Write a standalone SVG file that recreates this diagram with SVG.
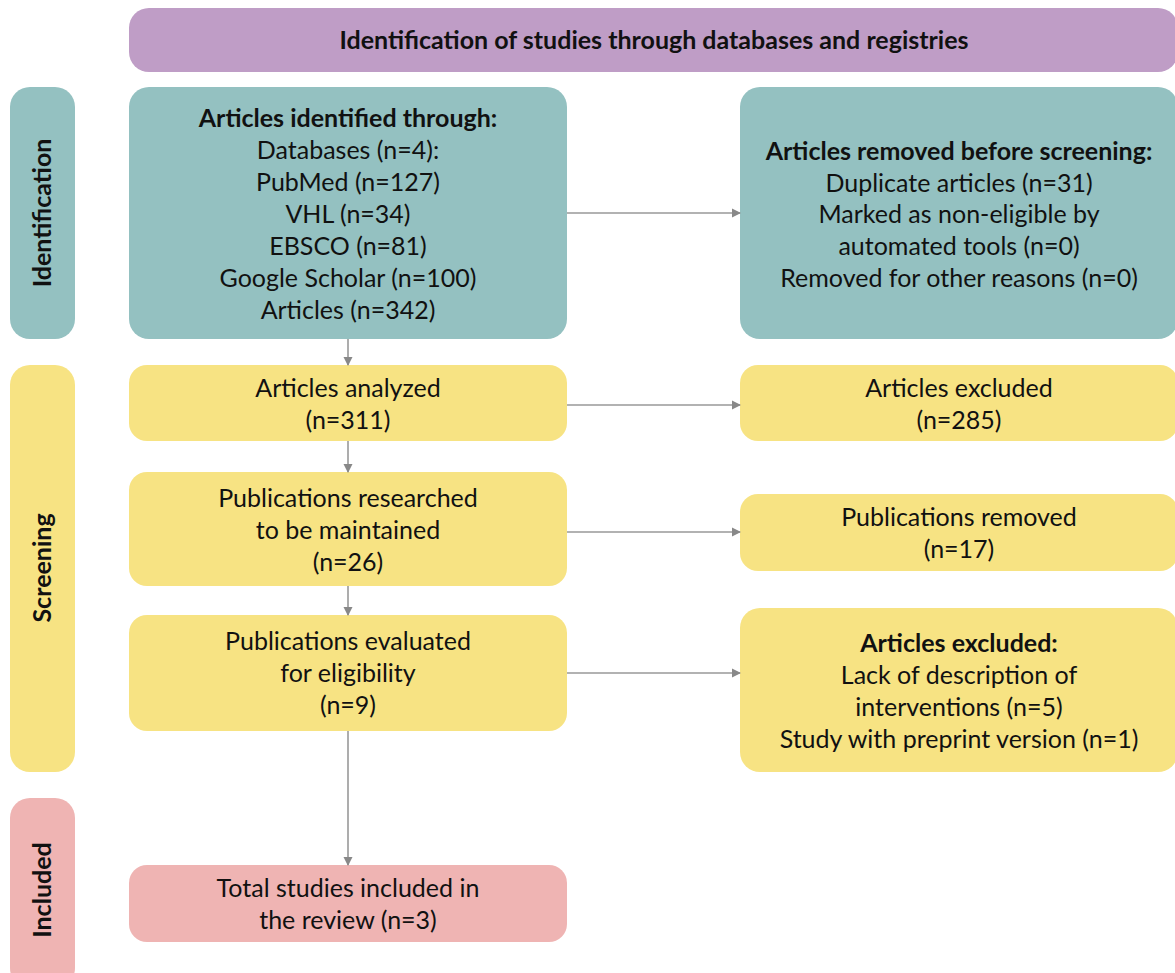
<svg xmlns="http://www.w3.org/2000/svg" width="1175" height="973" viewBox="0 0 1175 973">
<style>
text{font-family:Lato,"Noto Sans","Liberation Sans",sans-serif;font-size:25px;fill:#111;text-anchor:middle}
.b{font-weight:bold}
.teal{fill:#94c1c1}
.yel{fill:#f7e383}
.pink{fill:#efb4b3}
.pur{fill:#bf9dc6}
.c{stroke:#999;stroke-width:1.6;fill:none;marker-end:url(#ah)}
</style>
<defs>
<marker id="ah" markerWidth="10" markerHeight="10" refX="8" refY="5" orient="auto" markerUnits="userSpaceOnUse">
<path d="M0,0.5 L9,5 L0,9.5 Z" fill="#888"/>
</marker>
</defs>
<rect width="1175" height="973" fill="#fff"/>
<g id="header"><rect class="pur" x="129" y="8" width="1049" height="64" rx="20"/><text class="b" x="654" y="49">Identification of studies through databases and registries</text></g>
<g id="lbl-identification"><rect class="teal" x="10" y="87" width="65" height="252" rx="20"/><text class="b" transform="translate(51,213) rotate(-90)">Identification</text></g>
<g id="lbl-screening"><rect class="yel" x="10" y="365" width="65" height="407" rx="20"/><text class="b" transform="translate(51,568) rotate(-90)">Screening</text></g>
<g id="lbl-included"><rect class="pink" x="10" y="798" width="65" height="190" rx="20"/><text class="b" transform="translate(51,890) rotate(-90)">Included</text></g>
<g id="identified"><rect class="teal" x="129" y="87" width="438" height="252" rx="20"/>
<text x="348" y="127" class="b">Articles identified through:</text>
<text x="348" y="159">Databases (n=4):</text>
<text x="348" y="191">PubMed (n=127)</text>
<text x="348" y="223">VHL (n=34)</text>
<text x="348" y="255">EBSCO (n=81)</text>
<text x="348" y="287">Google Scholar (n=100)</text>
<text x="348" y="319">Articles (n=342)</text></g>
<g id="removed"><rect class="teal" x="740" y="87" width="438" height="252" rx="20"/>
<text x="959" y="160" class="b">Articles removed before screening:</text>
<text x="959" y="192">Duplicate articles (n=31)</text>
<text x="959" y="223">Marked as non-eligible by</text>
<text x="959" y="255">automated tools (n=0)</text>
<text x="959" y="287">Removed for other reasons (n=0)</text></g>
<g id="analyzed"><rect class="yel" x="129" y="365" width="438" height="76" rx="18"/>
<text x="348" y="397">Articles analyzed</text><text x="348" y="429">(n=311)</text></g>
<g id="excluded1"><rect class="yel" x="740" y="365" width="438" height="76" rx="18"/>
<text x="959" y="397">Articles excluded</text><text x="959" y="429">(n=285)</text></g>
<g id="researched"><rect class="yel" x="129" y="472" width="438" height="114" rx="18"/>
<text x="348" y="507">Publications researched</text><text x="348" y="539">to be maintained</text><text x="348" y="571">(n=26)</text></g>
<g id="pubremoved"><rect class="yel" x="740" y="494" width="438" height="77" rx="18"/>
<text x="959" y="526">Publications removed</text><text x="959" y="558">(n=17)</text></g>
<g id="evaluated"><rect class="yel" x="129" y="615" width="438" height="116" rx="18"/>
<text x="348" y="650">Publications evaluated</text><text x="348" y="682">for eligibility</text><text x="348" y="714">(n=9)</text></g>
<g id="excluded2"><rect class="yel" x="740" y="608" width="438" height="164" rx="20"/>
<text x="959" y="652" class="b">Articles excluded:</text>
<text x="959" y="684">Lack of description of</text>
<text x="959" y="716">interventions (n=5)</text>
<text x="959" y="748">Study with preprint version (n=1)</text></g>
<g id="included"><rect class="pink" x="129" y="865" width="438" height="77" rx="18"/>
<text x="348" y="897">Total studies included in</text><text x="348" y="929">the review (n=3)</text></g>
<g id="connectors">
<path class="c" d="M567,213 H740"/>
<path class="c" d="M567,405 H740"/>
<path class="c" d="M567,532 H740"/>
<path class="c" d="M567,673 H740"/>
<path class="c" d="M348,339 V365"/>
<path class="c" d="M348,441 V472"/>
<path class="c" d="M348,586 V615"/>
<path class="c" d="M348,731 V865"/>
</g>
</svg>
